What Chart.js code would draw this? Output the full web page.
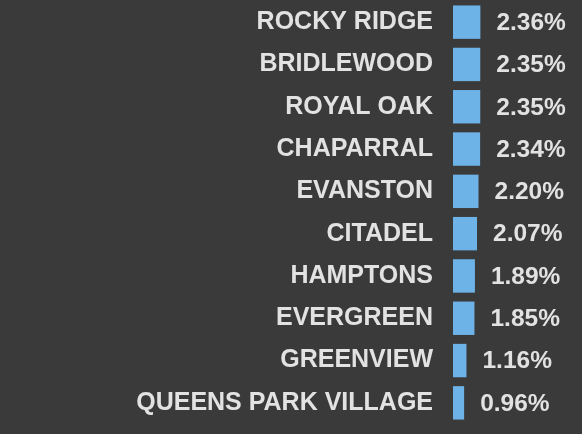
<!DOCTYPE html>
<html>
<head>
<meta charset="utf-8">
<script src="https://cdn.jsdelivr.net/npm/chart.js@4/dist/chart.umd.min.js"></script>
<style>
html,body{margin:0;padding:0;background:#3a3a3a;}
#wrap{width:582px;height:434px;position:relative;}
</style>
</head>
<body>
<div id="wrap"><canvas id="c"></canvas></div>
<script>
const categories = ["ROCKY RIDGE","BRIDLEWOOD","ROYAL OAK","CHAPARRAL","EVANSTON","CITADEL","HAMPTONS","EVERGREEN","GREENVIEW","QUEENS PARK VILLAGE"];
const values = [2.36,2.35,2.35,2.34,2.20,2.07,1.89,1.85,1.16,0.96];
const valueLabels = ["2.36%","2.35%","2.35%","2.34%","2.20%","2.07%","1.89%","1.85%","1.16%","0.96%"];

const FONT = "'Liberation Sans', Arial, sans-serif";
const TEXT = "#e2e2e2";

const valuePlugin = {
  id: 'valueLabels',
  afterDatasetsDraw(chart) {
    const ctx = chart.ctx;
    const meta = chart.getDatasetMeta(0);
    ctx.save();
    ctx.font = "bold 24.5px " + FONT;
    ctx.fillStyle = TEXT;
    ctx.textAlign = 'left';
    ctx.textBaseline = 'middle';
    meta.data.forEach((bar, i) => {
      ctx.fillText(valueLabels[i], bar.x + 16, bar.y + 1);
    });
    ctx.restore();
  }
};

new Chart(document.getElementById('c'), {
  type: 'bar',
  data: {
    labels: categories,
    datasets: [{
      data: values,
      backgroundColor: '#6db3e8',
      borderWidth: 0,
      barPercentage: 0.79,
      categoryPercentage: 1.0
    }]
  },
  options: {
    indexAxis: 'y',
    responsive: true,
    maintainAspectRatio: false,
    animation: false,
    layout: { padding: { left: 0, right: 13, top: 1, bottom: 10 } },
    plugins: { legend: { display: false }, tooltip: { enabled: false } },
    scales: {
      x: { display: false, min: 0, max: 10 },
      y: {
        grid: { display: false, drawTicks: false },
        border: { display: false },
        afterFit(scale) {
          scale.width = 453;
          scale.paddingTop = 0;
          scale.paddingBottom = 0;
        },
        ticks: {
          padding: 20,
          color: TEXT,
          font: { family: FONT, size: 25, weight: 'bold' }
        }
      }
    }
  },
  plugins: [valuePlugin]
});
</script>
</body>
</html>
